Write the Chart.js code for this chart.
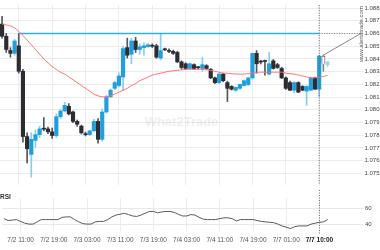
<!DOCTYPE html>
<html>
<head>
<meta charset="utf-8">
<script src="https://cdn.jsdelivr.net/npm/chart.js@4.4.1/dist/chart.umd.min.js"></script>
<style>
  body { margin: 0; background: #fff; width: 380px; height: 250px; overflow: hidden; position: relative; }
  #main { position: absolute; left: 0; top: 0; }
  #rsi { position: absolute; left: 0; top: 190px; }
</style>
</head>
<body>
<canvas id="main" width="380" height="190"></canvas>
<canvas id="rsi" width="380" height="58"></canvas>
<script>
// Hourly EUR candles
const OPEN  = [1.08674,1.08578,1.08466,1.08444,1.08503,1.08303,1.07790,1.07649,1.07760,1.07805,
               1.07850,1.07850,1.07827,1.07798,1.07946,1.07991,1.08028,1.07983,1.07909,1.07872,
               1.07812,1.07805,1.07835,1.07909,1.07768,1.07983,1.08102,1.08169,1.08191,1.08258,
               1.08489,1.08437,1.08541,1.08474,1.08489,1.08496,1.08503,1.08503,1.08407,1.08474,
               1.08466,1.08459,1.08451,1.08377,1.08362,1.08325,1.08355,1.08333,1.08325,1.08347,
               1.08318,1.08251,1.08214,1.08281,1.08214,1.08184,1.08154,1.08169,1.08191,1.08199,
               1.08251,1.08444,1.08377,1.08385,1.08281,1.08385,1.08355,1.08325,1.08251,1.08214,
               1.08154,1.08214,1.08184,1.08147,1.08154,1.08251,1.08162,1.08422,1.08355];
const HIGH  = [1.08734,1.08600,1.08489,1.08555,1.08600,1.08318,1.07820,1.07820,1.07842,1.07872,
               1.07939,1.07864,1.07857,1.07968,1.08006,1.08058,1.08050,1.07990,1.07920,1.07880,
               1.07825,1.07840,1.07925,1.07931,1.08006,1.08115,1.08165,1.08225,1.08290,1.08500,
               1.08563,1.08563,1.08570,1.08518,1.08526,1.08520,1.08518,1.08515,1.08600,1.08485,
               1.08480,1.08470,1.08460,1.08385,1.08370,1.08370,1.08362,1.08340,1.08414,1.08355,
               1.08325,1.08258,1.08290,1.08288,1.08225,1.08190,1.08180,1.08205,1.08235,1.08255,
               1.08444,1.08466,1.08390,1.08390,1.08451,1.08395,1.08365,1.08335,1.08258,1.08225,
               1.08220,1.08220,1.08190,1.08190,1.08260,1.08258,1.08430,1.08430,1.08380];
const LOW   = [1.08563,1.08451,1.08414,1.08429,1.08288,1.07746,1.07582,1.07471,1.07708,1.07783,
               1.07835,1.07812,1.07775,1.07783,1.07931,1.07983,1.07960,1.07900,1.07870,1.07810,
               1.07795,1.07798,1.07830,1.07738,1.07753,1.07975,1.08095,1.08160,1.08180,1.08154,
               1.08407,1.08362,1.08451,1.08437,1.08429,1.08490,1.08489,1.08405,1.08392,1.08465,
               1.08450,1.08435,1.08370,1.08320,1.08318,1.08318,1.08315,1.08320,1.08303,1.08318,
               1.08245,1.08205,1.08205,1.08220,1.08065,1.08155,1.08145,1.08160,1.08185,1.08190,
               1.08240,1.08288,1.08360,1.08273,1.08275,1.08320,1.08325,1.08245,1.08160,1.08150,
               1.08132,1.08135,1.08150,1.08035,1.08150,1.08160,1.08102,1.08303,1.08340];
const CLOSE = [1.08578,1.08474,1.08444,1.08541,1.08303,1.07790,1.07694,1.07768,1.07805,1.07850,
               1.07848,1.07827,1.07798,1.07946,1.07991,1.08035,1.07968,1.07909,1.07887,1.07820,
               1.07805,1.07835,1.07909,1.07768,1.07983,1.08102,1.08154,1.08214,1.08266,1.08481,
               1.08429,1.08541,1.08474,1.08496,1.08503,1.08511,1.08500,1.08414,1.08466,1.08472,
               1.08459,1.08444,1.08377,1.08333,1.08325,1.08362,1.08325,1.08331,1.08355,1.08325,
               1.08251,1.08214,1.08281,1.08229,1.08169,1.08162,1.08176,1.08199,1.08229,1.08251,
               1.08444,1.08362,1.08375,1.08380,1.08362,1.08325,1.08333,1.08251,1.08169,1.08154,
               1.08214,1.08139,1.08154,1.08184,1.08251,1.08162,1.08422,1.08362,1.08377];
// moving average (red)
const MA = [1.08674,1.08667,1.08659,1.08645,1.08615,1.08585,1.08548,1.08511,1.08474,1.08437,
            1.08399,1.08370,1.08340,1.08318,1.08295,1.08281,1.08258,1.08236,1.08214,1.08191,
            1.08169,1.08147,1.08124,1.08110,1.08102,1.08102,1.08110,1.08124,1.08139,1.08154,
            1.08169,1.08191,1.08206,1.08229,1.08243,1.08258,1.08273,1.08281,1.08288,1.08296,
            1.08303,1.08307,1.08310,1.08314,1.08318,1.08318,1.08318,1.08318,1.08318,1.08314,
            1.08310,1.08303,1.08296,1.08288,1.08288,1.08284,1.08281,1.08281,1.08281,1.08284,
            1.08288,1.08292,1.08296,1.08296,1.08296,1.08296,1.08296,1.08296,1.08288,1.08284,
            1.08281,1.08273,1.08266,1.08258,1.08251,1.08251,1.08255,1.08262,1.08270];
const RSI = [47.1,44.7,45.2,45.9,43.5,41.2,40.0,40.0,42.9,45.9,
             45.9,45.9,45.9,45.9,48.8,49.4,49.4,45.9,42.9,40.6,
             40.0,40.0,42.9,43.5,43.5,45.9,49.4,51.8,52.9,54.1,
             52.4,50.6,50.0,51.8,54.1,56.5,56.5,54.7,55.9,56.5,
             56.5,55.3,52.9,50.6,50.6,52.4,51.8,48.8,46.5,45.9,
             45.9,45.9,47.1,48.2,48.2,47.1,44.1,45.9,45.9,45.9,
             45.9,44.7,43.5,42.9,42.4,41.8,40.0,37.6,35.9,34.1,
             36.5,37.6,37.6,37.6,40.0,41.2,42.4,42.9,45.9];

const TIME_LABELS = ['7/2 11:00','7/2 19:00','7/3 03:00','7/3 11:00','7/3 19:00',
                     '7/4 03:00','7/4 11:00','7/4 19:00','7/7 01:00','7/7 10:00'];
const LABEL_SLOTS = [4,12,20,28,36,44,52,60,68,76];
const PRICE_TICKS = [1.088,1.087,1.086,1.085,1.084,1.083,1.082,1.081,1.080,1.079,1.078,1.077,1.076,1.075];
const RSI_TICKS = [60,40];
const RESISTANCE = 1.086;
const RES_FROM = 4, RES_TO = 76;   // candle range of the solid level line
const NOW = 76;                     // current candle (dotted marker)
const SLOTS = 87;                   // chart keeps empty room on the right

const UP = '#1ea0df', DOWN = '#2c2d33', UP_WICK = '#86cdf0', DOWN_WICK = '#55575c';
const FONT = '"Liberation Sans", Arial, sans-serif';
Chart.defaults.font.family = FONT;
Chart.defaults.animation = false;

const categories = Array.from({length: SLOTS}, (_, i) => {
  const k = LABEL_SLOTS.indexOf(i);
  return k >= 0 ? TIME_LABELS[k] : '';
});

const isUp = i => CLOSE[i] >= OPEN[i];
const bodyColor = OPEN.map((o, i) => i === 77 ? '#ffffff' : i === 78 ? '#9fd6f2' : (isUp(i) ? UP : DOWN));
const bodyBorder = OPEN.map((o, i) => i === 77 ? '#777' : bodyColor[i]);
const wickColor = OPEN.map((o, i) => i === 77 ? '#888' : i === 78 ? '#9fd6f2' : (isUp(i) ? UP_WICK : DOWN_WICK));
const resLine = categories.map((c, i) => (i >= RES_FROM && i <= RES_TO) ? RESISTANCE : null);

const xGrid = {
  offset: false, drawTicks: false, lineWidth: 1,
  color: c => LABEL_SLOTS.includes(c.index) ? '#ececec' : 'rgba(0,0,0,0)'
};

function dotted(ctx, x1, y1, x2, y2, color) {
  ctx.save();
  ctx.strokeStyle = color; ctx.lineWidth = 1; ctx.setLineDash([1, 1.5]);
  ctx.beginPath(); ctx.moveTo(x1, y1); ctx.lineTo(x2, y2); ctx.stroke();
  ctx.restore();
}

const mainOverlay = {
  id: 'mainOverlay',
  beforeDatasetsDraw(chart) {
    const {ctx, chartArea: a} = chart;
    // faint brand watermark
    ctx.save();
    ctx.font = 'bold 13px ' + FONT;
    ctx.fillStyle = 'rgba(120,130,140,0.13)';
    ctx.textAlign = 'center'; ctx.textBaseline = 'middle';
    ctx.fillText('What2Trade', (a.left + a.right) / 2, a.top + (a.bottom - a.top) * 0.655);
    ctx.restore();
  },
  afterDatasetsDraw(chart) {
    const {ctx, chartArea: a, scales: {x, y}} = chart;
    const xn = x.getPixelForValue(NOW), xe = x.getPixelForValue(SLOTS - 1);
    const yr = y.getPixelForValue(RESISTANCE);
    dotted(ctx, xn, a.top, xn, a.bottom, '#666');
    dotted(ctx, xn, yr, xe, yr, '#777');
    ctx.save();
    ctx.strokeStyle = '#888'; ctx.lineWidth = 1;
    ctx.beginPath();
    ctx.moveTo(x.getPixelForValue(NOW + 1), y.getPixelForValue(HIGH[NOW + 1]));
    ctx.lineTo(xe, yr);
    ctx.stroke();
    // vertical site text
    ctx.translate(xe, a.top + 1);
    ctx.rotate(-Math.PI / 2);
    ctx.font = '6px ' + FONT;
    ctx.fillStyle = '#555';
    ctx.textAlign = 'right'; ctx.textBaseline = 'middle';
    ctx.fillText('www.alertatrade.com', 0, 0);
    ctx.restore();
  }
};

new Chart(document.getElementById('main'), {
  type: 'bar',
  data: {
    labels: categories,
    datasets: [
      { type: 'line', data: MA, borderColor: '#ff7070', borderWidth: 1, pointRadius: 0, tension: 0.3, order: 0 },
      { type: 'line', data: resLine, borderColor: '#33aee8', borderWidth: 1.5, pointRadius: 0, spanGaps: false, order: 0 },
      { data: OPEN.map((o, i) => [o, CLOSE[i]]), backgroundColor: bodyColor, borderColor: bodyBorder,
        borderWidth: OPEN.map((o, i) => i === 77 ? 1 : 0), barThickness: 3.5, minBarLength: 1, grouped: false, order: 1 },
      { data: LOW.map((l, i) => [l, HIGH[i]]), backgroundColor: wickColor, barThickness: 1, grouped: false, order: 2 }
    ]
  },
  options: {
    responsive: false,
    layout: { padding: 0 },
    plugins: { legend: { display: false }, tooltip: { enabled: false } },
    scales: {
      x: { offset: true, grid: xGrid, ticks: { display: false }, border: { display: false } },
      y: {
        position: 'right', min: 1.0741, max: 1.08823,
        afterBuildTicks: s => { s.ticks = PRICE_TICKS.map(v => ({ value: v })); },
        afterFit: s => { s.width = 17; },
        grid: { color: '#ebebeb', drawTicks: false },
        border: { display: false },
        ticks: { padding: 1.5, color: '#444', font: { size: 6 }, callback: v => v.toFixed(3) }
      }
    }
  },
  plugins: [mainOverlay]
});

const rsiOverlay = {
  id: 'rsiOverlay',
  afterDatasetsDraw(chart) {
    const {ctx, chartArea: a, scales: {x}} = chart;
    const xn = x.getPixelForValue(NOW);
    dotted(ctx, xn, 0, xn, a.bottom + 2, '#666');
    ctx.save();
    ctx.font = 'bold 6.5px ' + FONT;
    ctx.fillStyle = '#333';
    ctx.textBaseline = 'middle';
    ctx.fillText('RSI', 0, 7);
    ctx.restore();
  }
};

new Chart(document.getElementById('rsi'), {
  type: 'line',
  data: {
    labels: categories,
    datasets: [{ data: RSI, borderColor: '#5a5a5a', borderWidth: 1, pointRadius: 0, tension: 0 }]
  },
  options: {
    responsive: false,
    layout: { padding: { top: 8 } },
    plugins: { legend: { display: false }, tooltip: { enabled: false } },
    scales: {
      x: {
        offset: true, grid: xGrid, border: { display: false },
        ticks: {
          autoSkip: false, maxRotation: 0, padding: 4,
          color: c => c.index === NOW ? '#222' : '#555',
          font: c => ({ size: 6.5, weight: c.index === NOW ? 'bold' : 'normal' })
        }
      },
      y: {
        position: 'right', min: 29.4, max: 74.1,
        afterBuildTicks: s => { s.ticks = RSI_TICKS.map(v => ({ value: v })); },
        afterFit: s => { s.width = 17; },
        grid: { color: '#e8e8e8', drawTicks: false },
        border: { display: false },
        ticks: { padding: 2, color: '#444', font: { size: 6 } }
      }
    }
  },
  plugins: [rsiOverlay]
});
</script>
</body>
</html>
